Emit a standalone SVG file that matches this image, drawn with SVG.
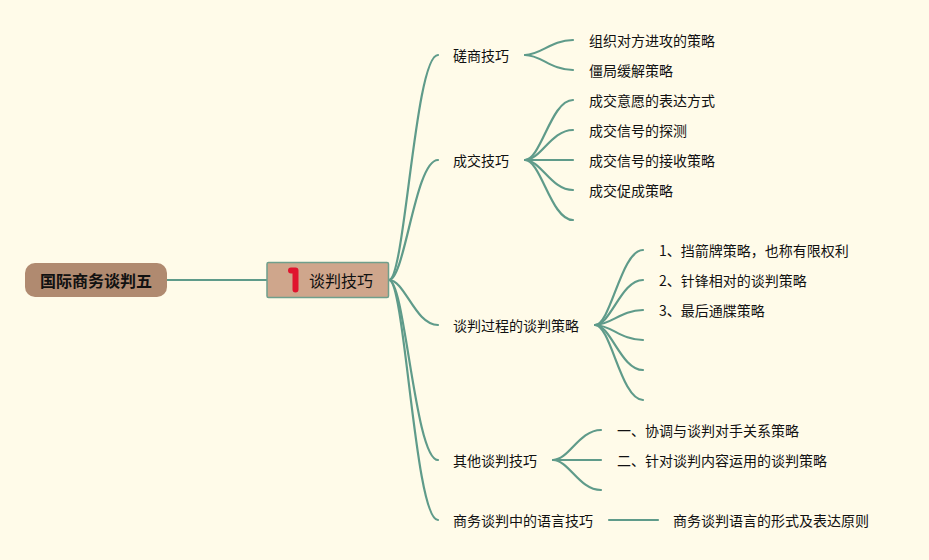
<svg xmlns="http://www.w3.org/2000/svg" width="929" height="560" viewBox="0 0 929 560">
<style>
text{font-family:"Noto Sans CJK SC","Noto Sans",sans-serif;font-size:14px;fill:#111}
.c path{fill:none;stroke:#5f9b8a;stroke-width:2.200;stroke-linecap:round}
</style>
<rect width="929" height="560" fill="#fffbe9"/>
<g class="c" id="connectors">
<path d="M167 280H267"/>
<path d="M389 280C405 280 415 55 438 55"/>
<path d="M389 280C405 280 415 160 438 160"/>
<path d="M389 280C405 280 415 325 438 325"/>
<path d="M389 280C405 280 415 460 438 460"/>
<path d="M389 280C405 280 415 520 438 520"/>
<path d="M525 55C541 55 551 40 573 40"/>
<path d="M525 55C541 55 551 70 573 70"/>
<path d="M525 160C541 160 551 100 573 100"/>
<path d="M525 160C541 160 551 130 573 130"/>
<path d="M525 160H573"/>
<path d="M525 160C541 160 551 190 573 190"/>
<path d="M525 160C541 160 551 220 573 220"/>
<path d="M595 325C611 325 621 250 643 250"/>
<path d="M595 325C611 325 621 280 643 280"/>
<path d="M595 325C611 325 621 310 643 310"/>
<path d="M595 325C611 325 621 340 643 340"/>
<path d="M595 325C611 325 621 370 643 370"/>
<path d="M595 325C611 325 621 400 643 400"/>
<path d="M553 460C569 460 579 430 601 430"/>
<path d="M553 460H601"/>
<path d="M553 460C569 460 579 490 601 490"/>
<path d="M609 520H658"/>
</g>
<g id="root"><rect x="25" y="263" width="142" height="34" rx="10" fill="#b08a70"/><text x="40" y="287" style="font-weight:700;font-size:16px">国际商务谈判五</text></g>
<g id="main"><rect x="267" y="262.500" width="121.500" height="35" rx="1.500" fill="#cfa68c" stroke="#6f9f8c" stroke-width="1.500"/><path d="M291 270.500H295.500V289.500" fill="none" stroke="#e0142e" stroke-width="6" stroke-linecap="round" stroke-linejoin="round"/><text x="309" y="287" style="font-size:16px">谈判技巧</text></g>
<g id="n1"><text x="453" y="61">磋商技巧</text></g>
<g id="n1a"><text x="589" y="46">组织对方进攻的策略</text></g>
<g id="n1b"><text x="589" y="76">僵局缓解策略</text></g>
<g id="n2"><text x="453" y="166">成交技巧</text></g>
<g id="n2a"><text x="589" y="106">成交意愿的表达方式</text></g>
<g id="n2b"><text x="589" y="136">成交信号的探测</text></g>
<g id="n2c"><text x="589" y="166">成交信号的接收策略</text></g>
<g id="n2d"><text x="589" y="196">成交促成策略</text></g>
<g id="n3"><text x="453" y="331">谈判过程的谈判策略</text></g>
<g id="n3a"><text x="659" y="256">1、挡箭牌策略，也称有限权利</text></g>
<g id="n3b"><text x="659" y="286">2、针锋相对的谈判策略</text></g>
<g id="n3c"><text x="659" y="316">3、最后通牒策略</text></g>
<g id="n4"><text x="453" y="466">其他谈判技巧</text></g>
<g id="n4a"><text x="617" y="436">一、协调与谈判对手关系策略</text></g>
<g id="n4b"><text x="617" y="466">二、针对谈判内容运用的谈判策略</text></g>
<g id="n5"><text x="453" y="526">商务谈判中的语言技巧</text></g>
<g id="n5a"><text x="673" y="526">商务谈判语言的形式及表达原则</text></g>
</svg>
